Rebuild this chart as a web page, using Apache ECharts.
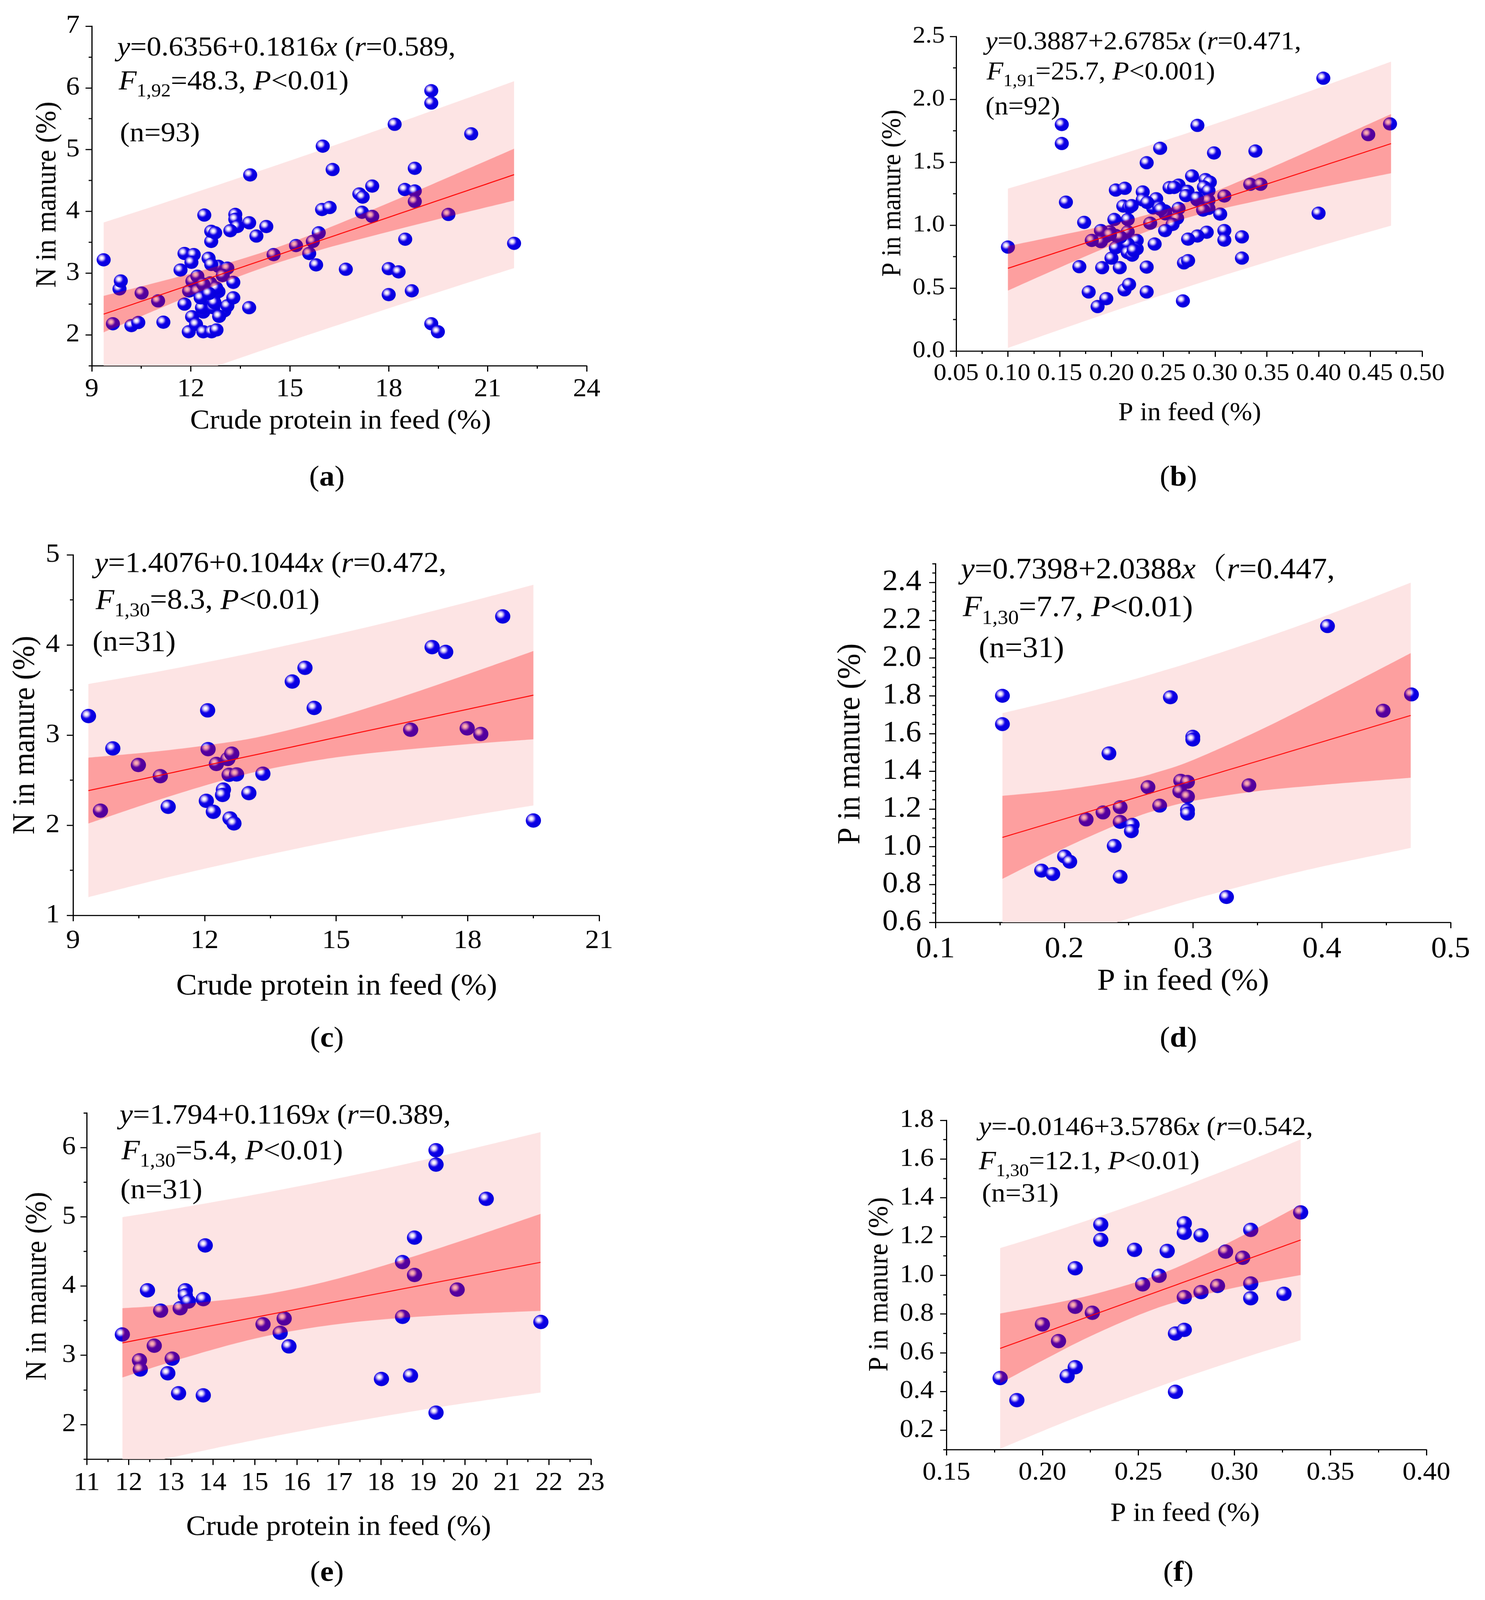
<!DOCTYPE html>
<html><head><meta charset="utf-8">
<script src="https://cdn.jsdelivr.net/npm/echarts@6/dist/echarts.min.js"></script>
<style>html,body{margin:0;padding:0;background:#fff;overflow:hidden}#c{position:absolute;left:0;top:0;width:3802px;height:4349px;transform-origin:0 0}</style>
</head><body><div id="c"></div>
<script>
// ---------------- data ----------------
// (a) N in manure vs crude protein in feed, n=93
const aFeed = [9.36,9.64,9.84,9.88,10.20,10.41,10.51,11.01,11.17,11.69,11.81,11.81,11.94,12.09,12.02,12.04,12.41,12.54,12.62,12.62,12.74,13.35,13.35,13.41,13.20,13.77,13.80,13.99,14.29,14.51,15.19,15.59,15.70,15.88,15.80,16.00,15.98,16.21,16.30,16.70,17.11,17.21,17.19,17.50,17.50,18.00,18.00,18.18,18.30,18.49,18.50,18.70,18.79,18.79,18.79,19.29,19.29,19.29,19.49,19.81,20.50,21.80,
  11.95,12.05,12.20,12.20,12.47,12.59,12.38,12.84,13.11,12.97,
  12.16,12.38,12.63,12.78,12.38,12.34,12.68,12.50,12.84,12.77,13.02,13.11,13.29,13.29,13.77,12.68,
  12.62,12.72,12.30,12.55,12.86];
const aManure = [3.215,2.18,2.744,2.872,2.15,2.20,2.677,2.55,2.205,3.05,3.318,2.498,2.05,3.30,3.175,2.293,3.94,3.24,3.513,3.677,3.652,3.95,3.872,3.754,3.687,3.815,4.59,3.60,3.754,3.30,3.446,3.318,3.513,3.652,3.133,5.056,4.03,4.062,4.677,3.062,4.282,4.231,3.985,4.41,3.918,3.072,2.652,5.41,3.02,4.354,3.549,2.713,4.697,4.33,4.16,5.954,5.754,2.18,2.05,3.95,5.256,3.482,
  2.71,2.87,2.95,2.71,2.76,2.84,2.82,3.11,3.08,2.96,
  2.17,2.05,2.05,2.08,2.37,2.44,2.59,2.58,2.70,2.76,2.39,2.47,2.60,2.85,2.44,2.44,
  3.14,2.52,2.60,2.67,2.30];
const aBandX  = [9.36,11,12.5,14.34,16,18,20,21.8];
const aPredLo = [0.85,1.162,1.442,1.78,2.078,2.43,2.777,3.08];
const aPredHi = [3.82,4.104,4.37,4.70,5.004,5.378,5.76,6.108];
const aConfLo = [2.04,2.414,2.747,3.115,3.388,3.671,3.94,4.174];
const aConfHi = [2.63,2.852,3.065,3.365,3.695,4.137,4.596,5.014];
const aLineX = [9.36,21.8];
const aLineY = [2.335,4.594];
const aYTicks = [2,3,4,5,6,7];
const aEq = ['{i|y}=0.6356+0.1816{i|x} ({i|r}=0.589,','{i|F}{s|1,92}=48.3, {i|P}<0.01)','(n=93)'];

// (b) P in manure vs P in feed, n=92
const bFeed = [0.100,0.152,0.152,0.156,0.1736,0.169,0.178,0.1866,0.195,0.191,0.208,0.200,0.2126,0.217,0.234,0.234,0.234,0.247,0.269,0.270,0.274,0.283,0.299,0.339,0.326,0.326,0.400,0.4046,0.448,0.469,0.334,0.344,0.309,0.309,0.309,0.305,0.292,0.283,0.274,
  0.2778,0.2908,0.295,0.2893,0.2937,0.2042,0.2129,0.2302,0.2302,0.2114,0.2172,0.2561,0.2648,0.2734,0.272,0.2828,0.2432,0.2403,0.2461,0.2518,0.252,0.2648,0.2634,0.259,0.2518,0.2374,0.2028,0.2157,0.2157,0.2042,0.1984,0.1941,0.1898,0.1898,0.181,0.2244,0.2244,0.2157,0.2042,0.2157,0.22,0.2417,0.2937,0.2937,
  0.2215,0.2475,0.2605,0.2825,0.2085,0.2345,0.2885,0.2195,0.1985];
const bManure = [0.826,1.80,1.649,1.183,1.022,0.670,0.469,0.353,0.416,0.662,0.662,0.738,0.486,0.529,0.469,0.667,1.496,1.611,0.398,0.700,0.718,1.793,1.574,1.589,0.907,0.738,1.095,2.168,1.72,1.805,1.325,1.325,1.232,0.957,0.881,1.088,0.944,0.914,0.889,
  1.391,1.362,1.342,1.303,1.274,1.279,1.293,1.264,1.201,1.152,1.142,1.298,1.318,1.269,1.235,1.201,1.21,1.137,1.142,1.113,1.09,1.133,1.055,1.006,0.957,1.016,1.045,1.045,0.947,0.918,0.947,0.908,0.957,0.869,0.879,0.879,0.811,0.850,0.821,0.782,0.762,0.850,1.196,1.133,
  0.80,1.125,1.30,1.215,0.905,1.18,1.12,1.155,0.925];
const bBandX  = [0.10,0.15,0.20,0.2566,0.30,0.35,0.40,0.47];
const bPredLo = [0.024,0.169,0.311,0.465,0.58,0.707,0.831,0.996];
const bPredHi = [1.29,1.412,1.538,1.687,1.805,1.945,2.09,2.30];
const bConfLo = [0.48,0.663,0.839,1.016,1.117,1.21,1.296,1.413];
const bConfHi = [0.834,0.919,1.009,1.136,1.268,1.442,1.624,1.883];
const bLineX = [0.10,0.47];
const bLineY = [0.657,1.648];
const bYTicks = [0,0.5,1.0,1.5,2.0,2.5];
const bEq = ['{i|y}=0.3887+2.6785{i|x} ({i|r}=0.471,','{i|F}{s|1,91}=25.7, {i|P}<0.001)','(n=92)'];

// (c) N in manure vs crude protein in feed, n=31
const cFeed = [9.352,9.625,9.907,10.49,10.99,11.17,12.04,12.07,12.08,12.20,12.27,12.43,12.41,12.53,12.62,12.56,12.73,12.58,12.67,13.01,13.33,14.00,14.29,14.50,16.70,17.19,17.50,17.99,18.30,18.80,19.50];
const cManure = [3.211,2.161,2.852,2.668,2.544,2.204,2.27,3.274,2.844,2.149,2.68,2.395,2.336,2.735,2.794,2.559,2.563,2.075,2.020,2.356,2.571,3.594,3.746,3.301,3.059,3.976,3.922,3.075,3.012,4.316,2.052];
const cBandX  = [9.35,11,12.5,13.5,15,16.5,18,19.5];
const cPredLo = [1.202,1.403,1.572,1.679,1.83,1.97,2.10,2.219];
const cPredHi = [3.566,3.709,3.853,3.955,4.117,4.29,4.474,4.667];
const cConfLo = [2.019,2.289,2.509,2.627,2.753,2.835,2.899,2.953];
const cConfHi = [2.749,2.823,2.917,3.007,3.195,3.425,3.675,3.933];
const cLineX = [9.35,19.5];
const cLineY = [2.384,3.443];
const cYTicks = [1,2,3,4,5];
const cEq = ['{i|y}=1.4076+0.1044{i|x} ({i|r}=0.472,','{i|F}{s|1,30}=8.3, {i|P}<0.01)','(n=31)'];

// (d) P in manure vs P in feed, n=31
const dFeed = [0.152,0.152,0.1824,0.1911,0.2002,0.2043,0.217,0.2301,0.2347,0.2388,0.2434,0.2434,0.2434,0.2528,0.2521,0.265,0.2741,0.2824,0.2904,0.2957,0.2897,0.2957,0.2957,0.2957,0.2998,0.2998,0.326,0.3434,0.4044,0.4476,0.4696];
const dManure = [1.80,1.65,0.874,0.856,0.949,0.921,1.145,1.182,1.495,1.005,1.21,1.132,0.841,1.117,1.083,1.316,1.218,1.792,1.35,1.344,1.294,1.266,1.195,1.176,1.583,1.568,0.734,1.326,2.169,1.721,1.807];
const dBandX  = [0.152,0.2,0.25,0.2736,0.3,0.35,0.4,0.469];
const dPredLo = [0.392,0.508,0.62,0.669,0.722,0.813,0.895,0.994];
const dPredHi = [1.708,1.787,1.879,1.926,1.981,2.094,2.216,2.399];
const dConfLo = [0.83,0.993,1.143,1.198,1.243,1.295,1.328,1.366];
const dConfHi = [1.27,1.303,1.357,1.398,1.46,1.612,1.782,2.026];
const dLineX = [0.152,0.469];
const dLineY = [1.05,1.696];
const dYTicks = [0.6,0.8,1.0,1.2,1.4,1.6,1.8,2.0,2.2,2.4];
const dEq = ['{i|y}=0.7398+2.0388{i|x}（{i|r}=0.447,','{i|F}{s|1,30}=7.7, {i|P}<0.01)','(n=31)'];

// (e) N in manure vs crude protein in feed, n=31
const eFeed = [11.848,12.256,12.275,12.446,12.607,12.759,12.93,13.034,13.186,13.224,13.347,13.347,13.42,13.774,13.774,13.821,15.196,15.604,15.699,15.813,18.014,18.516,18.516,18.706,18.801,18.801,19.313,19.313,19.313,19.816,20.508,21.808];
const eManure = [3.30,2.927,2.794,3.938,3.138,3.644,2.74,2.951,2.451,3.678,3.938,3.864,3.776,2.421,3.81,4.586,3.447,3.324,3.531,3.128,2.657,4.345,3.555,2.706,4.699,4.159,5.961,5.754,2.171,3.948,5.259,3.481];
const eBandX  = [11.85,13,14.5,15.7,17,18.5,20,21.8];
const ePredLo = [1.364,1.521,1.714,1.859,2.006,2.163,2.307,2.462];
const ePredHi = [4.994,5.106,5.264,5.40,5.557,5.75,5.958,6.222];
const eConfLo = [2.679,2.903,3.164,3.329,3.452,3.54,3.595,3.642];
const eConfHi = [3.679,3.725,3.814,3.929,4.11,4.374,4.669,5.042];
const eLineX = [11.85,21.8];
const eLineY = [3.179,4.342];
const eYTicks = [2,3,4,5,6];
const eEq = ['{i|y}=1.794+0.1169{i|x} ({i|r}=0.389,','{i|F}{s|1,30}=5.4, {i|P}<0.01)','(n=31)'];

// (f) P in manure vs P in feed, n=31
const fFeed = [0.178,0.1867,0.200,0.2084,0.2129,0.2171,0.2171,0.2171,0.226,0.2304,0.2304,0.248,0.2522,0.2608,0.265,0.2693,0.2693,0.2739,0.2739,0.2739,0.2739,0.2826,0.2826,0.2912,0.2954,0.3043,0.3085,0.3085,0.3085,0.3258,0.3345];
const fManure = [0.469,0.355,0.746,0.66,0.479,0.525,0.837,1.036,0.806,1.262,1.182,1.131,0.953,0.997,1.125,0.398,0.699,0.718,1.268,1.219,0.887,1.206,0.913,0.945,1.122,1.09,1.234,0.957,0.881,0.904,1.324];
const fBandX  = [0.178,0.2,0.225,0.256,0.28,0.31,0.3345];
const fPredLo = [0.104,0.195,0.294,0.408,0.492,0.59,0.664];
const fPredHi = [1.14,1.207,1.288,1.395,1.483,1.60,1.701];
const fConfLo = [0.442,0.559,0.685,0.817,0.889,0.956,1.001];
const fConfHi = [0.802,0.843,0.897,0.987,1.085,1.234,1.363];
const fLineX = [0.178,0.3345];
const fLineY = [0.622,1.182];
const fYTicks = [0.2,0.4,0.6,0.8,1.0,1.2,1.4,1.6,1.8];
const fEq = ['{i|y}=-0.0146+3.5786{i|x} ({i|r}=0.542,','{i|F}{s|1,30}=12.1, {i|P}<0.01)','(n=31)'];

const xTitleCP = 'Crude protein in feed (%)';
const xTitleP = 'P in feed (%)';
const yTitleN = 'N in manure (%)';
const yTitleP = 'P in manure (%)';

// ---------------- layout & style ----------------
const W = 3802, H = 4349;
const FONT = '"Liberation Serif","Times New Roman","Noto Serif CJK SC","Noto Sans CJK SC",serif';
const LAY = {
  a:{grid:[235,71,1267,923],  tick:70,title:75,eq:75,yt:[122,529], xt:[872,1145], tag:[837,1300], eqL:[[300,131],[304,223],[307,364]], xm:30,ym:31,sym:36},
  b:{grid:[2448,99,1193,855], tick:66,title:69,eq:70,yt:[2287,525],xt:[3046,1124],tag:[3017,1300],eqL:[[2523,116],[2526,198],[2523,293]],xm:29,ym:29,sym:36},
  c:{grid:[187,1508,1347,980],tick:72,title:80,eq:78,yt:[66,1998], xt:[862,2682], tag:[837,2825], eqL:[[242,1534],[245,1634],[237,1749]],xm:34,ym:34,sym:39},
  d:{grid:[2395,1532,1319,975],tick:80,title:83,eq:80,yt:[2178,2022],xt:[3029,2668],tag:[3017,2825],eqL:[[2460,1551],[2465,1654],[2506,1765]],xm:34,ym:36,sym:38},
  e:{grid:[222,3025,1291,941],tick:70,title:76,eq:77,yt:[97,3496], xt:[867,4152], tag:[837,4277], eqL:[[306,3034],[311,3131],[308,3237]],xm:31,ym:28,sym:39},
  f:{grid:[2423,3045,1229,895],tick:70,title:72,eq:72,yt:[2253,3491],xt:[3034,4115],tag:[3017,4277],eqL:[[2506,3066],[2506,3159],[2514,3247]],xm:29,ym:32,sym:39}
};

const P = [
  {k:'a',px:aFeed,py:aManure,bx:aBandX,plo:aPredLo,phi:aPredHi,clo:aConfLo,chi:aConfHi,lx:aLineX,ly:aLineY,xr:[9,24,3],xd:0,yr:[1.5,7],yt:aYTicks,ymi:0.5,yd:0,xl:xTitleCP,yl:yTitleN,eq:aEq},
  {k:'b',px:bFeed,py:bManure,bx:bBandX,plo:bPredLo,phi:bPredHi,clo:bConfLo,chi:bConfHi,lx:bLineX,ly:bLineY,xr:[0.05,0.5,0.05],xd:2,yr:[0,2.5],yt:bYTicks,ymi:0.25,yd:1,xl:xTitleP,yl:yTitleP,eq:bEq},
  {k:'c',px:cFeed,py:cManure,bx:cBandX,plo:cPredLo,phi:cPredHi,clo:cConfLo,chi:cConfHi,lx:cLineX,ly:cLineY,xr:[9,21,3],xd:0,yr:[1,5],yt:cYTicks,ymi:0.5,yd:0,xl:xTitleCP,yl:yTitleN,eq:cEq},
  {k:'d',px:dFeed,py:dManure,bx:dBandX,plo:dPredLo,phi:dPredHi,clo:dConfLo,chi:dConfHi,lx:dLineX,ly:dLineY,xr:[0.1,0.5,0.1],xd:1,yr:[0.6,2.5],yt:dYTicks,ymi:0.05,yd:1,xl:xTitleP,yl:yTitleP,eq:dEq},
  {k:'e',px:eFeed,py:eManure,bx:eBandX,plo:ePredLo,phi:ePredHi,clo:eConfLo,chi:eConfHi,lx:eLineX,ly:eLineY,xr:[11,23,1],xd:0,yr:[1.5,6.5],yt:eYTicks,ymi:0.5,yd:0,xl:xTitleCP,yl:yTitleN,eq:eEq},
  {k:'f',px:fFeed,py:fManure,bx:fBandX,plo:fPredLo,phi:fPredHi,clo:fConfLo,chi:fConfHi,lx:fLineX,ly:fLineY,xr:[0.15,0.4,0.05],xd:2,yr:[0.1,1.8],yt:fYTicks,ymi:0.1,yd:1,xl:xTitleP,yl:yTitleP,eq:fEq}
];

const BALL = {type:'radial', x:0.36, y:0.36, r:0.72, global:false, colorStops:[
  {offset:0, color:'#ffffff'},{offset:0.1, color:'#fbf5ff'},{offset:0.2, color:'#cfc3f5'},
  {offset:0.3, color:'#8577f0'},{offset:0.4, color:'#2a18ea'},{offset:0.5, color:'#0a00e6'},{offset:1, color:'#0700da'}]};
const LIGHT = '#fde4e4';
const DARK = 'rgba(255,0,0,0.30)';
const AX = {color:'#000', width:3};

function curve(p){
  let s='';
  for(let i=0;i<p.length-1;i++){
    const p0=p[i-1]||p[i], p1=p[i], p2=p[i+1], p3=p[i+2]||p[i+1];
    const c1x=p1[0]+(p2[0]-p0[0])/6, c1y=p1[1]+(p2[1]-p0[1])/6;
    const c2x=p2[0]-(p3[0]-p1[0])/6, c2y=p2[1]-(p3[1]-p1[1])/6;
    s+=' C'+c1x+' '+c1y+' '+c2x+' '+c2y+' '+p2[0]+' '+p2[1];
  }
  return s;
}
function bandRender(bx, lo, hi, fill){
  return function(params, api){
    if(params.dataIndex!==0) return null;
    const up = bx.map((x,k)=>api.coord([x,hi[k]]));
    const dn = bx.map((x,k)=>api.coord([x,lo[k]])).reverse();
    const d = 'M'+up[0][0]+' '+up[0][1]+curve(up)+' L'+dn[0][0]+' '+dn[0][1]+curve(dn)+' Z';
    const cs = params.coordSys;
    return {type:'path', shape:{pathData:d}, style:{fill:fill, stroke:null},
      clipPath:{type:'rect', shape:{x:cs.x, y:cs.y, width:cs.width, height:cs.height}}, silent:true};
  };
}
function txtStyle(text, fs, extra){
  return Object.assign({text:text, x:0, y:0, fill:'#000', fontSize:fs, fontFamily:FONT,
    align:'left', verticalAlign:'middle', textAlign:'left', textVerticalAlign:'middle'}, extra||{});
}

const grid=[], xAxis=[], yAxis=[], series=[], graphic=[];
P.forEach((p,i)=>{
  const l = LAY[p.k];
  grid.push({left:l.grid[0], top:l.grid[1], width:l.grid[2], height:l.grid[3], containLabel:false, outerBoundsMode:'none'});
  const lab = (dec, margin) => ({show:true, color:'#000', fontFamily:FONT, fontSize:l.tick, margin:margin,
      formatter: v => Number(v).toFixed(dec)});
  xAxis.push({type:'value', gridIndex:i, min:p.xr[0], max:p.xr[1], interval:p.xr[2],
    axisLine:{show:true, onZero:false, lineStyle:AX},
    axisTick:{show:true, inside:false, length:16, lineStyle:AX},
    minorTick:{show:true, splitNumber:2, length:8, lineStyle:AX},
    splitLine:{show:false}, minorSplitLine:{show:false},
    axisLabel:lab(p.xd, l.xm)});
  yAxis.push({type:'value', gridIndex:i, position:'left', min:p.yr[0], max:p.yr[1],
    axisLine:{show:true, onZero:false, lineStyle:AX},
    axisTick:{show:true, inside:false, length:16, lineStyle:AX, customValues:p.yt},
    splitLine:{show:false},
    axisLabel:Object.assign(lab(p.yd, l.ym), {customValues:p.yt})});
  yAxis.push({type:'value', gridIndex:i, position:'left', offset:0, min:p.yr[0], max:p.yr[1], interval:p.ymi,
    axisLine:{show:false}, axisTick:{show:true, inside:false, length:8, lineStyle:AX},
    axisLabel:{show:false}, splitLine:{show:false}});
  const yi = 2*i;
  series.push({type:'custom', xAxisIndex:i, yAxisIndex:yi, z:1, silent:true,
    data:p.bx.map((x,k)=>[x,p.plo[k],p.phi[k]]), encode:{x:0,y:[1,2]},
    renderItem:bandRender(p.bx,p.plo,p.phi,LIGHT)});
  series.push({type:'scatter', xAxisIndex:i, yAxisIndex:yi, z:2, silent:true, symbol:'circle', symbolSize:l.sym,
    data:p.px.map((x,k)=>[x,p.py[k]]), itemStyle:{color:BALL, opacity:1, borderWidth:0}});
  series.push({type:'custom', xAxisIndex:i, yAxisIndex:yi, z:3, silent:true,
    data:p.bx.map((x,k)=>[x,p.clo[k],p.chi[k]]), encode:{x:0,y:[1,2]},
    renderItem:bandRender(p.bx,p.clo,p.chi,DARK)});
  series.push({type:'line', xAxisIndex:i, yAxisIndex:yi, z:4, silent:true, symbol:'none',
    data:p.lx.map((x,k)=>[x,p.ly[k]]), lineStyle:{color:'#ff0000', width:2.5}});

  graphic.push({type:'text', x:l.yt[0], y:l.yt[1], rotation:Math.PI/2, silent:true,
    style:txtStyle(p.yl, l.title, {align:'center', textAlign:'center'})});
  graphic.push({type:'text', x:l.xt[0], y:l.xt[1], silent:true,
    style:txtStyle(p.xl, l.title, {align:'center', textAlign:'center'})});
  graphic.push({type:'text', x:l.tag[0], y:l.tag[1], silent:true,
    style:txtStyle('({b|'+p.k+'})', 78, {align:'center', textAlign:'center',
      rich:{b:{fontSize:78, fontFamily:FONT, fontWeight:'bold', fill:'#000'}}})});
  const fs = l.eq;
  const rich = {
    i:{fontSize:fs, fontFamily:FONT, fontStyle:'italic', fill:'#000'},
    s:{fontSize:Math.round(fs*0.67), fontFamily:FONT, fill:'#000', verticalAlign:'bottom'}
  };
  graphic.push({type:'text', x:l.eqL[0][0], y:l.eqL[0][1], silent:true,
    style:txtStyle(p.eq[0], fs, {lineHeight:fs, rich:rich})});
  graphic.push({type:'text', x:l.eqL[1][0], y:l.eqL[1][1], silent:true,
    style:txtStyle(p.eq[1], fs, {lineHeight:Math.round(fs*1.36), rich:rich})});
  graphic.push({type:'text', x:l.eqL[2][0], y:l.eqL[2][1], silent:true,
    style:txtStyle(p.eq[2], fs, {lineHeight:fs, rich:rich})});
});

// fit the whole 3802x4349 drawing into the visible viewport
const el = document.getElementById('c');
const vw = window.innerWidth || W, vh = window.innerHeight || H;
const sx = vw / W, sy = vh / H;
if (Math.abs(sx - 1) > 0.001 || Math.abs(sy - 1) > 0.001) {
  el.style.transform = 'scale(' + sx + ',' + sy + ')';
}

const chart = echarts.init(el, null, {renderer:'canvas', width:W, height:H});
chart.setOption({
  animation:false,
  backgroundColor:'#ffffff',
  textStyle:{fontFamily:FONT, color:'#000'},
  grid:grid, xAxis:xAxis, yAxis:yAxis, series:series,
  graphic:{elements:graphic}
});
</script>
</body></html>
